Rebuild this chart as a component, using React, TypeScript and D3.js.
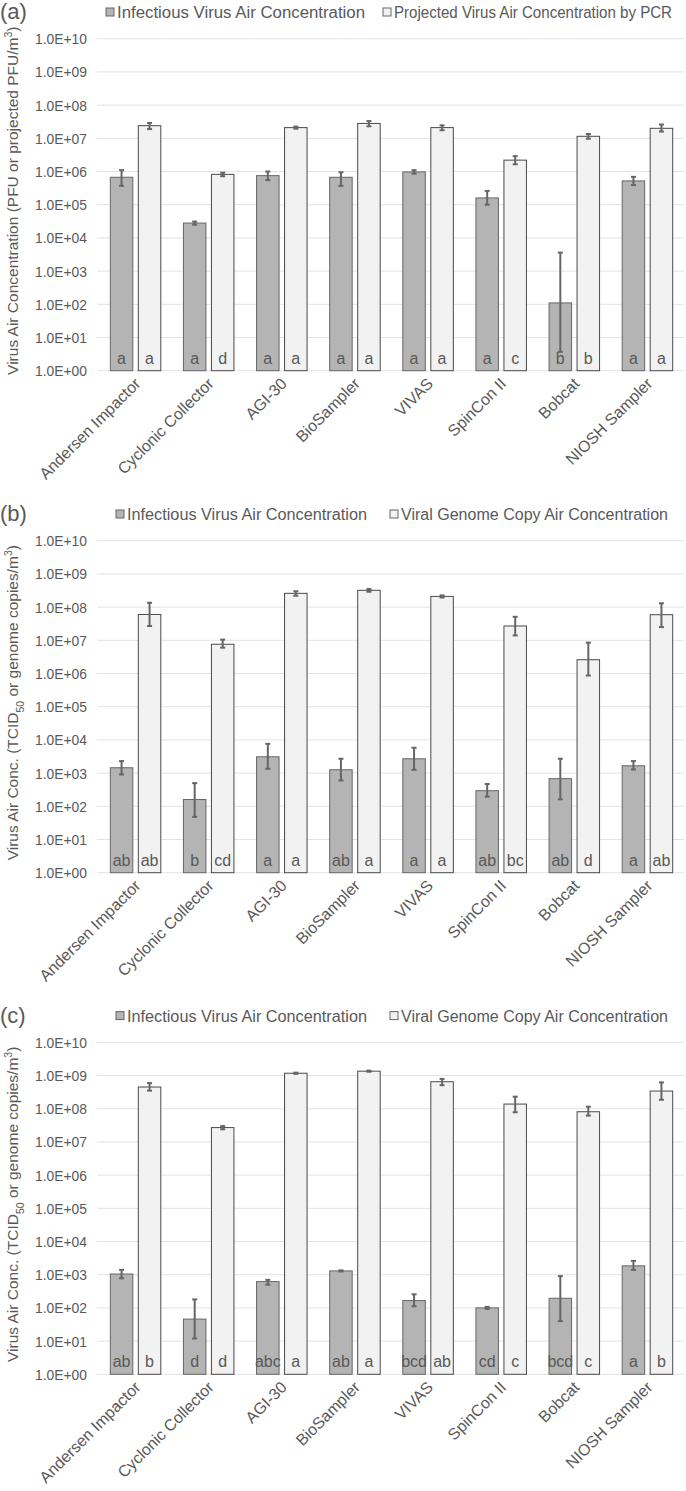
import React from "react";
import * as d3 from "d3";

const categories = ["Andersen Impactor", "Cyclonic Collector", "AGI-30", "BioSampler", "VIVAS", "SpinCon II", "Bobcat", "NIOSH Sampler"];
const tickValues = [1, 1e1, 1e2, 1e3, 1e4, 1e5, 1e6, 1e7, 1e8, 1e9, 1e10];
const tickLabels = ["1.0E+00", "1.0E+01", "1.0E+02", "1.0E+03", "1.0E+04", "1.0E+05", "1.0E+06", "1.0E+07", "1.0E+08", "1.0E+09", "1.0E+10"];

// Panel (a)
const aInf = [6.7e5, 2.8e4, 7.5e5, 6.7e5, 9.7e5, 1.6e5, 110, 5.2e5];
const aInfLo = [3.7e5, 2.5e4, 5.5e5, 3.7e5, 8.6e5, 1.0e5, 3.7, 3.9e5];
const aInfHi = [1.1e6, 3.1e4, 1.0e6, 9.5e5, 1.1e6, 2.6e5, 3.6e3, 6.9e5];
const aPcr = [2.4e7, 8.2e5, 2.1e7, 2.8e7, 2.1e7, 2.2e6, 1.15e7, 2.0e7];
const aPcrLo = [1.9e7, 7.2e5, 1.95e7, 2.3e7, 1.75e7, 1.65e6, 9.7e6, 1.6e7];
const aPcrHi = [2.9e7, 9.2e5, 2.25e7, 3.3e7, 2.45e7, 2.9e6, 1.35e7, 2.6e7];
const aInfLetters = ["a", "a", "a", "a", "a", "a", "b", "a"];
const aPcrLetters = ["a", "d", "a", "a", "a", "c", "b", "a"];

// Panel (b)
const bInf = [1.45e3, 160, 3.1e3, 1.26e3, 2.7e3, 295, 680, 1.66e3];
const bInfLo = [910, 48, 1.35e3, 600, 1.26e3, 195, 162, 1.29e3];
const bInfHi = [2.3e3, 500, 7.6e3, 2.7e3, 5.8e3, 470, 2.7e3, 2.3e3];
const bPcr = [6.0e7, 7.6e6, 2.6e8, 3.2e8, 2.1e8, 2.7e7, 2.6e6, 5.9e7];
const bPcrLo = [2.7e7, 6.0e6, 2.2e8, 2.9e8, 1.95e8, 1.4e7, 8.7e5, 2.5e7];
const bPcrHi = [1.35e8, 1.05e7, 3.0e8, 3.5e8, 2.25e8, 5.1e7, 8.5e6, 1.3e8];
const bInfLetters = ["ab", "b", "a", "ab", "a", "ab", "ab", "a"];
const bPcrLetters = ["ab", "cd", "a", "a", "a", "bc", "d", "ab"];

// Panel (c)
const cInf = [1.05e3, 46, 620, 1.3e3, 166, 100, 195, 1.85e3];
const cInfLo = [780, 12, 500, 1.25e3, 112, 93, 40, 1.4e3];
const cInfHi = [1.4e3, 180, 700, 1.35e3, 257, 107, 910, 2.6e3];
const cPcr = [4.5e8, 2.7e7, 1.17e9, 1.35e9, 6.5e8, 1.38e8, 8.1e7, 3.4e8];
const cPcrLo = [3.5e8, 2.4e7, 1.12e9, 1.3e9, 5.1e8, 7.8e7, 6.2e7, 1.86e8];
const cPcrHi = [5.9e8, 3.0e7, 1.22e9, 1.4e9, 7.9e8, 2.3e8, 1.15e8, 6.2e8];
const cInfLetters = ["ab", "d", "abc", "ab", "bcd", "cd", "bcd", "a"];
const cPcrLetters = ["b", "d", "a", "a", "ab", "c", "c", "b"];

const FONT = "'Liberation Sans', Arial, sans-serif";
const TXT = "#595959";
const INF_FILL = "#b4b4b4";
const PCR_FILL = "#f2f2f2";

type PanelProps = {
  top: number;
  tag: string;
  legend1: string;
  legend2: string;
  leg1x: number;
  leg2x: number;
  leg1w: number;
  leg2w: number;
  title: React.ReactNode;
  inf: number[]; infLo: number[]; infHi: number[];
  pcr: number[]; pcrLo: number[]; pcrHi: number[];
  infLetters: string[]; pcrLetters: string[];
};

const PLOT_LEFT = 99;
const PLOT_RIGHT = 684;
const PLOT_H = 332;

function Panel(p: PanelProps) {
  const y0 = p.top + 38.7;
  const y1 = y0 + PLOT_H;
  const y = d3.scaleLog().domain([1, 1e10]).range([y1, y0]);
  const x = d3.scaleBand<string>().domain(categories).range([PLOT_LEFT, PLOT_RIGHT]);
  const bw = 22.5;
  const gap = 5.5;
  const groupW = bw * 2 + gap;
  const barX = (c: string, s: number) => (x(c) as number) + x.bandwidth() / 2 - groupW / 2 + s * (bw + gap);
  const series = [
    { v: p.inf, lo: p.infLo, hi: p.infHi, fill: INF_FILL, stroke: "#666666", letters: p.infLetters },
    { v: p.pcr, lo: p.pcrLo, hi: p.pcrHi, fill: PCR_FILL, stroke: "#4a4a4a", letters: p.pcrLetters },
  ];
  return (
    <g fontFamily={FONT}>
      <text x={0} y={p.top + 19} fontSize={22} fill={TXT}>{p.tag}</text>
      <rect x={p.leg1x} y={p.top + 8} width={8} height={8} fill={INF_FILL} stroke="#666666" strokeWidth={1} />
      <text x={p.leg1x + 11} y={p.top + 18} fontSize={16} fill={TXT} textLength={p.leg1w} lengthAdjust="spacingAndGlyphs">{p.legend1}</text>
      <rect x={p.leg2x} y={p.top + 8} width={8} height={8} fill={PCR_FILL} stroke="#666666" strokeWidth={1} />
      <text x={p.leg2x + 11} y={p.top + 18} fontSize={16} fill={TXT} textLength={p.leg2w} lengthAdjust="spacingAndGlyphs">{p.legend2}</text>
      {tickValues.map((t, i) => (
        <g key={i}>
          <line x1={PLOT_LEFT - 2} x2={PLOT_RIGHT} y1={y(t)} y2={y(t)} stroke="#e3e3e3" strokeWidth={1} />
          <text x={87} y={y(t) + 5.5} fontSize={15.5} fill={TXT} textAnchor="end" textLength={52} lengthAdjust="spacingAndGlyphs">{tickLabels[i]}</text>
        </g>
      ))}
      <text transform={`translate(18, ${(y0 + y1) / 2 - 4}) rotate(-90)`} fontSize={15.5} fill={TXT} textAnchor="middle">{p.title}</text>
      {series.map((s, si) => (
        <g key={si}>
          {categories.map((c, i) => {
            const bx = barX(c, si);
            return (
              <g key={c}>
                <rect x={bx} y={y(s.v[i])} width={bw} height={y1 - y(s.v[i])} fill={s.fill} stroke={s.stroke} strokeWidth={1} />
                <text x={bx + bw / 2} y={y1 - 7} fontSize={16} fill={TXT} textAnchor="middle">{s.letters[i]}</text>
              </g>
            );
          })}
        </g>
      ))}
      {series.map((s, si) => (
        <g key={"e" + si}>
          {categories.map((c, i) => {
            const cx = barX(c, si) + bw / 2;
            const a = y(s.hi[i]);
            const b = y(s.lo[i]);
            return (
              <g key={c} stroke="#666666" strokeWidth={2}>
                <line x1={cx} x2={cx} y1={a} y2={b} />
                <line x1={cx - 2.5} x2={cx + 2.5} y1={a} y2={a} />
                <line x1={cx - 2.5} x2={cx + 2.5} y1={b} y2={b} />
              </g>
            );
          })}
        </g>
      ))}
      {categories.map((c) => {
        const cx = (x(c) as number) + x.bandwidth() / 2 + 6;
        return (
          <text key={c} transform={`translate(${cx}, ${y1 + 14}) rotate(-45)`} fontSize={16} fill={TXT} textAnchor="end">{c}</text>
        );
      })}
    </g>
  );
}

const titleA = <>Virus Air Concentration (PFU or projected PFU/m<tspan baselineShift="super" fontSize={10.5}>3</tspan>)</>;
const titleBC = <>Virus Air Conc. (TCID<tspan baselineShift="sub" fontSize={10.5}>50</tspan> or genome copies/m<tspan baselineShift="super" fontSize={10.5}>3</tspan>)</>;

export default function App() {
  return (
    <svg width={686} height={1491} style={{ position: "absolute", left: 0, top: 0, background: "#fff" }}>
      <Panel
        top={0} tag="(a)"
        legend1="Infectious Virus Air Concentration" legend2="Projected Virus Air Concentration by PCR"
        leg1x={106} leg2x={383} leg1w={248} leg2w={278}
        title={titleA}
        inf={aInf} infLo={aInfLo} infHi={aInfHi} pcr={aPcr} pcrLo={aPcrLo} pcrHi={aPcrHi}
        infLetters={aInfLetters} pcrLetters={aPcrLetters}
      />
      <Panel
        top={502} tag="(b)"
        legend1="Infectious Virus Air Concentration" legend2="Viral Genome Copy Air Concentration"
        leg1x={116} leg2x={390} leg1w={240} leg2w={267}
        title={titleBC}
        inf={bInf} infLo={bInfLo} infHi={bInfHi} pcr={bPcr} pcrLo={bPcrLo} pcrHi={bPcrHi}
        infLetters={bInfLetters} pcrLetters={bPcrLetters}
      />
      <Panel
        top={1003.6} tag="(c)"
        legend1="Infectious Virus Air Concentration" legend2="Viral Genome Copy Air Concentration"
        leg1x={116} leg2x={390} leg1w={240} leg2w={267}
        title={titleBC}
        inf={cInf} infLo={cInfLo} infHi={cInfHi} pcr={cPcr} pcrLo={cPcrLo} pcrHi={cPcrHi}
        infLetters={cInfLetters} pcrLetters={cPcrLetters}
      />
    </svg>
  );
}
